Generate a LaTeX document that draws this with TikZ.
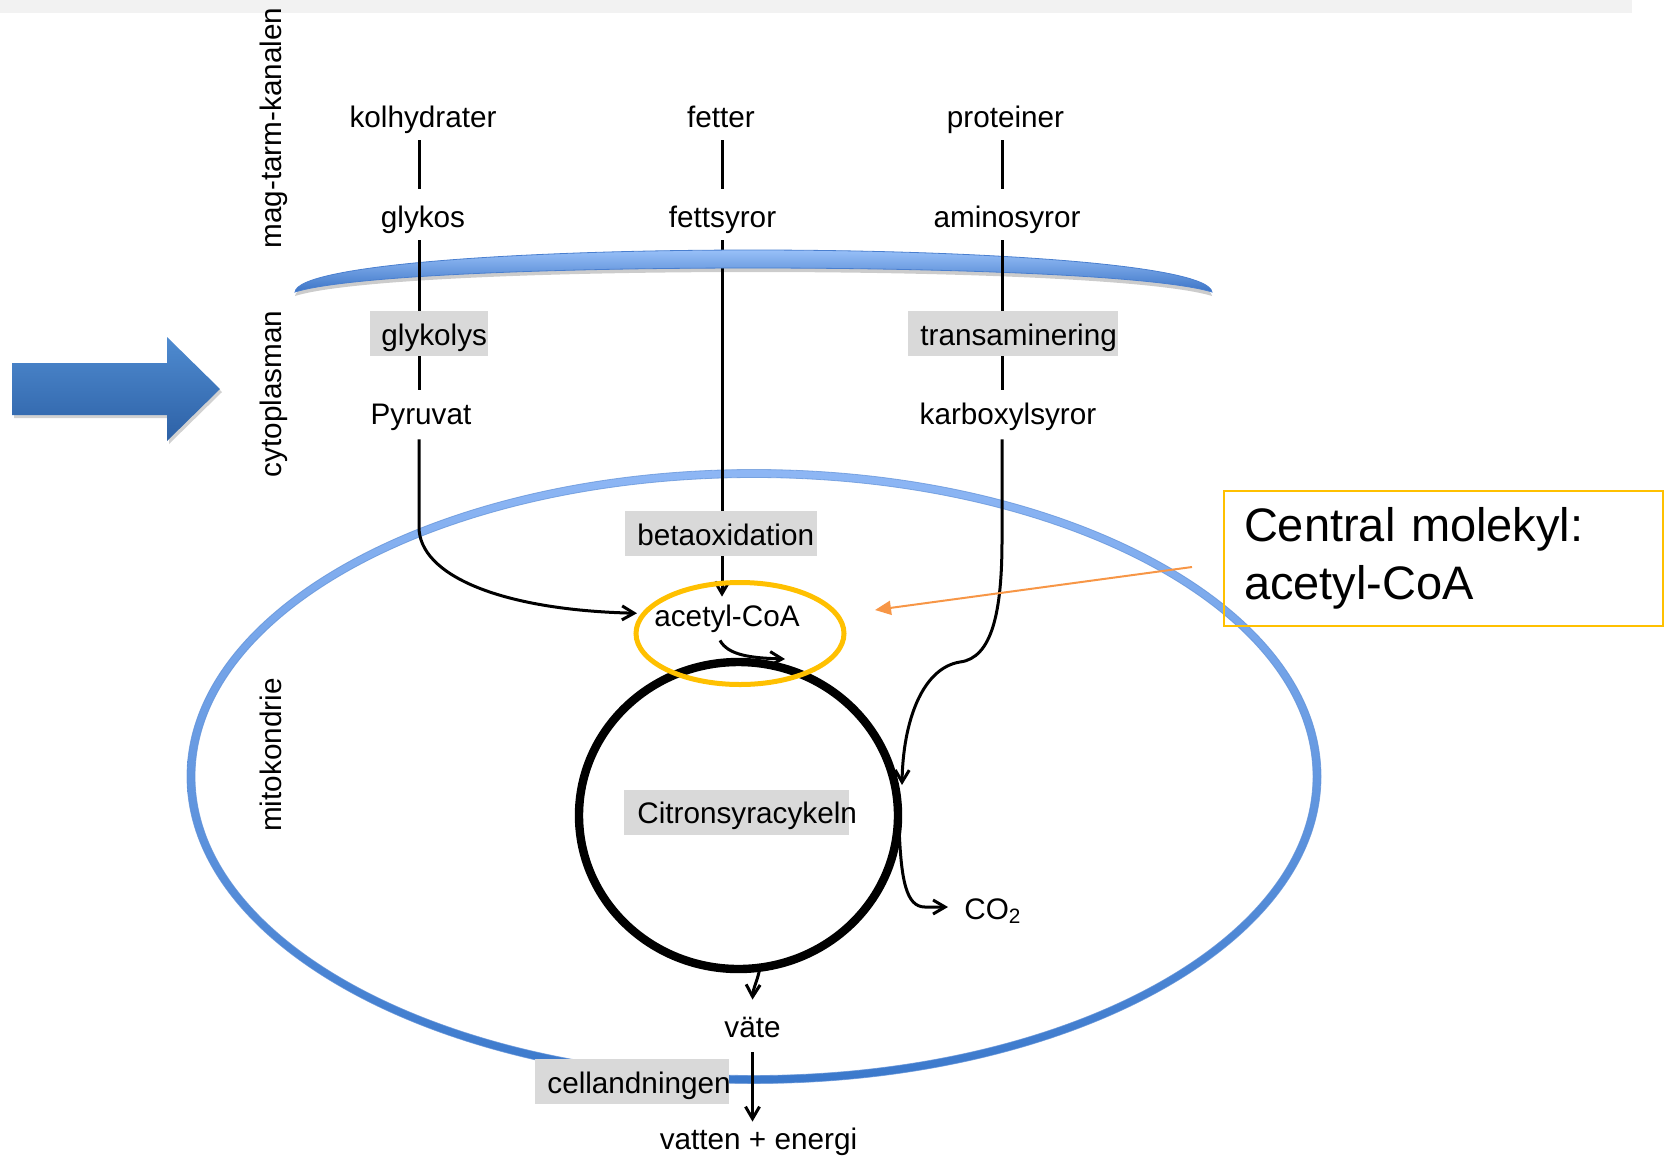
\documentclass[tikz,border=0pt]{standalone}
\usepackage{fontspec}
\setmainfont{Liberation Sans}
\usetikzlibrary{arrows.meta,calc}
\newlength\pxu
\setlength\pxu{0.5pt}
\definecolor{bandgray}{HTML}{F2F2F2}
\definecolor{boxgray}{HTML}{D9D9D9}
\definecolor{ringgold}{HTML}{FFC000}
\definecolor{calloutorange}{HTML}{F79646}
\definecolor{arrowtop}{HTML}{4F8BD0}
\definecolor{arrowbot}{HTML}{2D61A6}
\definecolor{mitotop}{HTML}{8EB7F5}
\definecolor{mitobot}{HTML}{3A78CB}
\definecolor{mitoedge}{HTML}{5E8FD6}
\definecolor{memtop}{HTML}{98C0F8}
\definecolor{membot}{HTML}{3B74C6}
\definecolor{memedge}{HTML}{4A7FCF}
\newcommand\lblfont{\fontsize{14.85pt}{18pt}\selectfont}
\newcommand\bigfont{\fontsize{23.5pt}{29pt}\selectfont}

\begin{document}
\begin{tikzpicture}[x=0.5pt,y=-0.5pt,
  lbl/.style={inner sep=0pt,font=\lblfont,text height=11pt,text depth=3.25pt,anchor=base},
  sidelbl/.style={inner sep=0pt,font=\lblfont,rotate=90,anchor=base},
  procbox/.style={fill=boxgray,inner sep=0pt,font=\lblfont,text height=17pt,text depth=5.5pt,anchor=west},
  link/.style={line width=1.5pt},
  flow/.style={line width=1.5pt,-{Straight Barb[length=6pt,width=7pt]}},
]
\useasboundingbox (0,0) rectangle (1670,1158);
\fill[bandgray] (0,0) rectangle (1632,13);

% block arrow on the left
\shade[top color=arrowtop,bottom color=arrowbot,
  preaction={fill=black,opacity=.18,transform canvas={xshift=1pt,yshift=-1.5pt}}]
  (12,363) -- (167,363) -- (167,337) -- (220,389) -- (167,441) -- (167,415) -- (12,415) -- cycle;

% compartment names
\node[sidelbl] (gut)  at (281,128) {mag-tarm-kanalen};
\node[sidelbl] (cyto) at (281,394) {cytoplasman};
\node[sidelbl] (mito) at (281,755) {mitokondrie};

% mitochondrion outline
\begin{scope}[even odd rule]
  \clip (754,776.5) ellipse [x radius=567, y radius=307]
        (754,776.5) ellipse [x radius=559, y radius=299];
  \shade[top color=mitotop,bottom color=mitobot] (180,465) rectangle (1330,1090);
\end{scope}
\draw[mitoedge,line width=0.4pt,opacity=.7] (754,776.5) ellipse [x radius=567, y radius=307];
\draw[mitoedge,line width=0.4pt,opacity=.7] (754,776.5) ellipse [x radius=559, y radius=299];

% column positions
\coordinate (cA) at (419,0);
\coordinate (cB) at (722,0);
\coordinate (cC) at (1002,0);

% substances
\node[lbl] (kolhydrater) at (423,127)    {kolhydrater};
\node[lbl] (fetter)      at (721,127)    {fetter};
\node[lbl] (proteiner)   at (1005.5,127) {proteiner};
\node[lbl] (glykos)      at (423,227)    {glykos};
\node[lbl] (fettsyror)   at (722.5,227)  {fettsyror};
\node[lbl] (aminosyror)  at (1007,227)   {aminosyror};
\node[lbl] (pyruvat)     at (421,424)    {Pyruvat};
\node[lbl] (karboxyl)    at (1008,424)   {karboxylsyror};
\node[lbl] (acetyl)      at (727,626)    {acetyl-CoA};
\node[lbl] (vaete)       at (752.5,1037) {väte};
\node[lbl] (vatten)      at (758.5,1149) {vatten + energi};
\node[lbl,anchor=base west] (co2) at (964,919) {CO\textsubscript{2}};

% processes
\node[procbox] (glykolys) at (370,333.5)  {\makebox[118\pxu][l]{\hspace*{11\pxu}glykolys}};
\node[procbox] (transam)  at (908,333.5)  {\makebox[210\pxu][l]{\hspace*{12\pxu}transaminering}};
\node[procbox] (betaox)   at (625,533.5)  {\makebox[192\pxu][l]{\hspace*{12\pxu}betaoxidation}};
\node[procbox] (citron)   at (624,812)    {\makebox[225\pxu][l]{\hspace*{13\pxu}Citronsyracykeln}};
\node[procbox] (cell)     at (535,1081.5) {\makebox[194\pxu][l]{\hspace*{12\pxu}cellandningen}};

% fatty acids pass behind the cell membrane
\draw[link,shorten <=6.5\pxu] (fettsyror.south -| cB) -- (betaox.north -| cB);

% cell membrane
\shadedraw[top color=memtop,bottom color=membot,draw=memedge,line width=0.4pt,
  preaction={fill=black,opacity=.2,transform canvas={yshift=-2pt}}]
  (295,292) .. controls (298,265) and (520,250) .. (753,250)
  .. controls (986,250) and (1208,265) .. (1212,292)
  .. controls (1160,276) and (960,268) .. (753,268)
  .. controls (546,268) and (346,276) .. (295,292) -- cycle;

% carbohydrates
\draw[link,shorten <=6.5\pxu,shorten >=16\pxu] (kolhydrater.south -| cA) -- (glykos.north -| cA);
\draw[link,shorten <=6.5\pxu] (glykos.south -| cA) -- (glykolys.north -| cA);
\draw[link,shorten >=12\pxu] (glykolys.south -| cA) -- (pyruvat.north -| cA);
\draw[flow,shorten <=8.5\pxu] (pyruvat.south -| cA) -- (419,527)
  .. controls (419,575) and (500,610) .. ($(acetyl.west)+(-17,-5)$);

% fats
\draw[link,shorten <=6.5\pxu,shorten >=16\pxu] (fetter.south -| cB) -- (fettsyror.north -| cB);
\draw[flow,shorten >=7\pxu] (betaox.south -| cB) -- (acetyl.north -| cB);

% proteins
\coordinate (cycRight)  at (902,785);
\coordinate (cycIn)     at (785,659);
\coordinate (cycOut)    at (899,826);
\coordinate (cycBottom) at (760,967);
\draw[link,shorten <=6.5\pxu,shorten >=16\pxu] (proteiner.south -| cC) -- (aminosyror.north -| cC);
\draw[link,shorten <=6.5\pxu] (aminosyror.south -| cC) -- (transam.north -| cC);
\draw[link,shorten >=12\pxu] (transam.south -| cC) -- (karboxyl.north -| cC);
\draw[flow,shorten <=8.5\pxu] (karboxyl.south -| cC) -- (1002,540)
  .. controls (1002,612) and (992,658) .. (960,662)
  .. controls (922,668) and (903,722) .. (cycRight);

% citric acid cycle
\draw[line width=4.2pt] (738.5,815.5) ellipse [x radius=159.5, y radius=153.5];
\draw[ringgold,line width=2.5pt] (740,633.5) ellipse [x radius=104, y radius=51];
\draw[flow] ($(acetyl.south)+(-7,7.5)$) .. controls (728,655) and (750,658) .. (cycIn);
\draw[flow] (cycOut) .. controls (901,880) and (906,907) .. (925,907)
  -- ($(co2.base west)+(-16,-12)$);
\draw[flow] (cycBottom) .. controls (758,980) and (753,988) .. ($(vaete.north)+(0,-15)$);
\draw[flow,shorten <=8.5\pxu,shorten >=5\pxu] (vaete.south) -- (vatten.north -| vaete.south);

% call-out
\node[draw=ringgold,line width=1pt,anchor=north west,minimum width=439\pxu,minimum height=135\pxu,
  text width=399\pxu,inner xsep=20\pxu,inner ysep=0pt,align=left,font=\bigfont] (central) at (1223,490)
  {Central molekyl:\\acetyl-CoA};
\coordinate (calloutTail) at (1192,567);
\coordinate (calloutTip)  at (875,610);
\draw[calloutorange,line width=1pt,-{Triangle[length=8pt,width=7pt]}] (calloutTail) -- (calloutTip);
\end{tikzpicture}
\end{document}
